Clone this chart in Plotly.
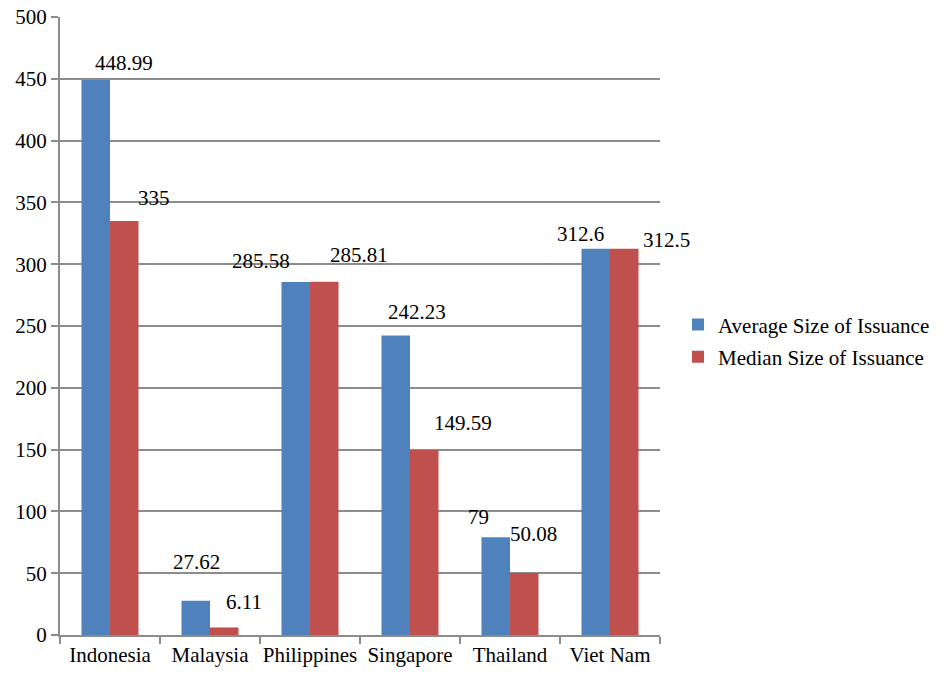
import plotly.graph_objects as go

# Issuance size by country
countries = ["Indonesia", "Malaysia", "Philippines", "Singapore", "Thailand", "Viet Nam"]
average_size = [448.99, 27.62, 285.58, 242.23, 79, 312.6]
median_size = [335, 6.11, 285.81, 149.59, 50.08, 312.5]
y_ticks = [0, 50, 100, 150, 200, 250, 300, 350, 400, 450, 500]

# Pixel offsets of each value label from its category centre / bar top
avg_label_shift = [(14, 17), (-14, 39), (-49, 21), (7, 24), (-32, 20), (-30, 15)]
med_label_shift = [(44, 23), (34, 25), (49, 27), (53, 27), (23, 39), (56, 9)]

FONT = "Liberation Serif"
BLUE = "#4F81BD"
RED = "#C0504D"
GRID = "#8C8C8C"

fig = go.Figure()
fig.add_trace(go.Bar(x=countries, y=average_size, name="Average Size of Issuance",
                     legendgroup="avg",
                     marker=dict(color=BLUE, line=dict(width=0))))
fig.add_trace(go.Bar(x=countries, y=median_size, name="Median Size of Issuance",
                     legendgroup="med",
                     marker=dict(color=RED, line=dict(width=0))))

annotations = []
for i, (a, m) in enumerate(zip(average_size, median_size)):
    for val, (dx, dy) in ((a, avg_label_shift[i]), (m, med_label_shift[i])):
        annotations.append(dict(
            x=i, y=val, xref="x", yref="y", text=f"{val:g}", showarrow=False,
            xanchor="center", yanchor="middle", xshift=dx, yshift=dy,
            font=dict(family=FONT, size=21, color="black")))

fig.update_layout(
    width=942, height=677,
    margin=dict(l=60, r=282, t=17, b=42, autoexpand=False),
    paper_bgcolor="white", plot_bgcolor="white",
    barmode="group", bargap=0.43, bargroupgap=0,
    font=dict(family=FONT, size=21, color="black"),
    annotations=annotations,
    legend=dict(x=1.03, y=0.476, xanchor="left", yanchor="middle",
                font=dict(family=FONT, size=21, color="black"),
                bgcolor="rgba(0,0,0,0)", tracegroupgap=2, traceorder="grouped"),
    xaxis=dict(type="category", range=[-0.5, 5.5], showgrid=False, showline=True,
               linecolor=GRID, linewidth=2,
               ticks="outside", tickson="boundaries", ticklen=7, tickcolor=GRID, tickwidth=2,
               tickangle=0, automargin=False,
               tickfont=dict(family=FONT, size=21, color="black")),
    yaxis=dict(range=[0, 500], tickvals=y_ticks, showgrid=True, gridcolor=GRID, gridwidth=2,
               showline=True, linecolor=GRID, linewidth=2, zeroline=False,
               ticks="outside", ticklen=7, tickcolor=GRID, tickwidth=2, automargin=False,
               tickfont=dict(family=FONT, size=21, color="black")),
)

fig.write_html("out.html")
